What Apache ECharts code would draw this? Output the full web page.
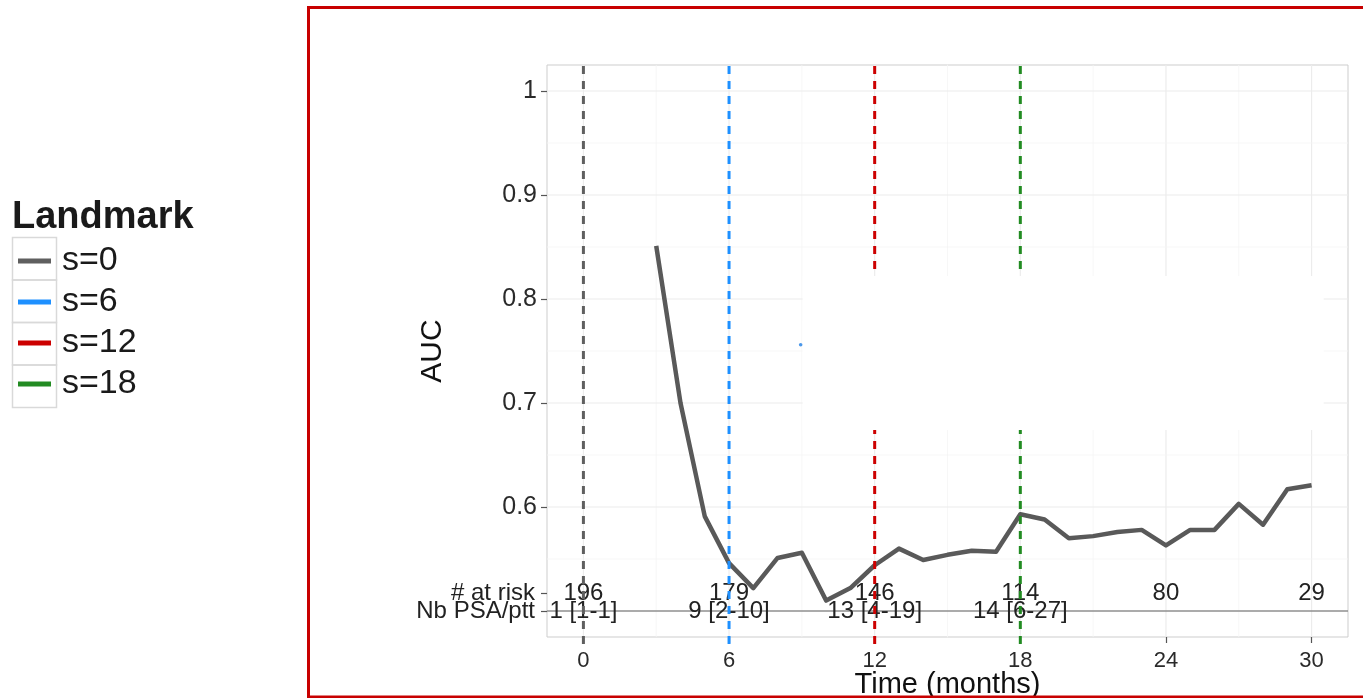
<!DOCTYPE html>
<html><head><meta charset="utf-8">
<script src="https://cdn.jsdelivr.net/npm/echarts@6/dist/echarts.min.js"></script>
<style>html,body{margin:0;padding:0;background:#fff}#c{width:1363px;height:698px}</style>
</head><body><div id="c"></div>
<script>
// ---- data ----
const months = [3,4,5,6,7,8,9,10,11,12,13,14,15,16,17,18,19,20,21,22,23,24,25,26,27,28,29,30];
const auc    = [0.851,0.700,0.591,0.546,0.522,0.551,0.556,0.510,0.522,0.544,0.560,0.549,0.554,0.558,0.557,0.593,0.588,0.570,0.572,0.576,0.578,0.563,0.578,0.578,0.603,0.583,0.617,0.621];
const landmarks = [0,6,12,18];
const landmarkNames = ['s=0','s=6','s=12','s=18'];
const landmarkColors = ['#5f5f5f','#1E90FF','#CC0000','#228B22'];
const riskTimes = [0,6,12,18,24,30];
const atRisk = [196,179,146,114,80,29];
const psaTimes = [0,6,12,18];
const psaLabels = ['1 [1-1]','9 [2-10]','13 [4-19]','14 [6-27]'];
const rowLabels = ['# at risk','Nb PSA/ptt'];
const rowY = [0.517, 0.5];
const xTicks = [0,6,12,18,24,30];
const xMinor = [3,9,15,21,27];
const yTicks = [0.6,0.7,0.8,0.9,1];
const yTickLabels = ['0.6','0.7','0.8','0.9','1'];
const yMinor = [0.55,0.65,0.75,0.85,0.95];
const xMin = -1.5, xMax = 31.5, yMin = 0.475, yMax = 1.025;
const refLineY = [0.5];
const patch = {x0: 9.03, x1: 30.5, y0: 0.674, y1: 0.822};
const strayDot = [8.95, 0.756];

const FONT = 'Liberation Sans, Arial, sans-serif';
const chart = echarts.init(document.getElementById('c'));

const gridData = [];
xTicks.forEach(v => gridData.push([v, yMin, 0, 1]));
xMinor.forEach(v => gridData.push([v, yMin, 0, 0]));
yTicks.forEach(v => gridData.push([xMin, v, 1, 1]));
yMinor.forEach(v => gridData.push([xMin, v, 1, 0]));

// table cells: [x, y, text, isRowLabel]
const tableData = [];
riskTimes.forEach((t, i) => tableData.push([t, rowY[0], String(atRisk[i]), 0]));
psaTimes.forEach((t, i) => tableData.push([t, rowY[1], psaLabels[i], 0]));
rowLabels.forEach((lab, i) => tableData.push([xMin, rowY[i], lab, 1]));

const yTickValues = [rowY[1], rowY[0]].concat(yTicks);
function yFmt(v) {
  for (let i = 0; i < yTicks.length; i++) if (Math.abs(v - yTicks[i]) < 1e-6) return yTickLabels[i];
  return '';
}

const series = [
  {
    name: 'gridlines', type: 'custom', silent: true, z: 1,
    encode: {x: 0, y: 1},
    data: gridData,
    renderItem: function (params, api) {
      const kind = api.value(2), major = api.value(3);
      let a, b;
      if (kind === 0) { a = api.coord([api.value(0), yMax]); b = api.coord([api.value(0), yMin]); }
      else { a = api.coord([xMin, api.value(1)]); b = api.coord([xMax, api.value(1)]); }
      return {type: 'line', shape: {x1: a[0], y1: a[1], x2: b[0], y2: b[1]},
        style: {stroke: major ? '#ececec' : '#f5f5f5', lineWidth: major ? 1.2 : 0.8}};
    }
  },
  {
    name: 'refline', type: 'custom', silent: true, z: 2,
    encode: {x: 0, y: 1},
    data: refLineY.map(v => [xMin, v]),
    renderItem: function (params, api) {
      const a = api.coord([xMin, api.value(1)]), b = api.coord([xMax, api.value(1)]);
      return {type: 'line', shape: {x1: a[0], y1: a[1], x2: b[0], y2: b[1]},
        style: {stroke: '#8f8f8f', lineWidth: 1.6}};
    }
  },
  {
    name: 'AUC', type: 'line', z: 3,
    data: months.map((m, i) => [m, auc[i]]),
    showSymbol: false, symbol: 'none',
    lineStyle: {color: '#595959', width: 4.5, join: 'round'},
    itemStyle: {color: '#595959'}
  },
  {
    name: 'table', type: 'custom', silent: true, z: 4, clip: false,
    encode: {x: 0, y: 1},
    data: tableData.map(d => [d[0], d[1], d[3]]),
    renderItem: function (params, api) {
      const p = api.coord([api.value(0), api.value(1)]);
      const isLab = api.value(2) === 1;
      return {type: 'text', x: isLab ? p[0] - 12 : p[0], y: p[1],
        style: {text: tableData[params.dataIndex][2], fontSize: 24, fontFamily: FONT,
          fill: '#222', align: isLab ? 'right' : 'center', verticalAlign: 'middle'}};
    }
  }
];
landmarks.forEach((s, i) => {
  series.push({
    name: landmarkNames[i], type: 'custom', z: 6, clip: false, silent: true,
    encode: {x: 0, y: 1},
    itemStyle: {color: landmarkColors[i]},
    data: [[s, yMax]],
    renderItem: function (params, api) {
      const a = api.coord([api.value(0), yMax]), b = api.coord([api.value(0), yMin]);
      return {type: 'line', shape: {x1: a[0], y1: a[1] + 1, x2: b[0], y2: b[1] + 9},
        style: {stroke: landmarkColors[i], lineWidth: 3, lineDash: [8, 7]}};
    }
  });
});

const option = {
  backgroundColor: '#ffffff',
  animation: false,
  textStyle: {fontFamily: FONT},
  title: {text: 'Landmark', left: 12, top: 199, padding: 0,
    textStyle: {fontSize: 38, fontWeight: 'bold', color: '#1a1a1a', fontFamily: FONT}},
  legend: {
    data: landmarkNames, orient: 'vertical', left: 18, top: 242, padding: 0,
    itemWidth: 33, itemHeight: 5, itemGap: 3, icon: 'rect', selectedMode: false,
    textStyle: {fontSize: 34, lineHeight: 38, color: '#1a1a1a', fontFamily: FONT, padding: [0, 0, 0, 6]}
  },
  grid: {left: 547, right: 15, top: 65, bottom: 61, show: true, containLabel: false,
    outerBoundsMode: 'none',
    borderColor: '#cdcdcd', borderWidth: 1, backgroundColor: '#fff'},
  xAxis: {
    type: 'value', min: xMin, max: xMax,
    axisLine: {show: false, onZero: false}, splitLine: {show: false},
    axisTick: {show: true, customValues: xTicks, length: 6, lineStyle: {color: '#555', width: 1.2}},
    axisLabel: {customValues: xTicks, fontSize: 22, color: '#2a2a2a', margin: 13, fontFamily: FONT},
    name: 'Time (months)', nameLocation: 'middle', nameGap: 33, nameMoveOverlap: false,
    nameTextStyle: {fontSize: 29, color: '#111', fontFamily: FONT}
  },
  yAxis: {
    type: 'value', min: yMin, max: yMax,
    axisLine: {show: false, onZero: false}, splitLine: {show: false},
    axisTick: {show: true, customValues: yTickValues, length: 6, lineStyle: {color: '#555', width: 1.2}},
    axisLabel: {customValues: yTicks, formatter: yFmt, fontSize: 25, color: '#2a2a2a', margin: 10, fontFamily: FONT},
    name: 'AUC', nameLocation: 'middle', nameGap: 99, nameMoveOverlap: false,
    nameTextStyle: {fontSize: 30, color: '#111', fontFamily: FONT}
  },
  series: series
};
chart.setOption(option);

// layout-only decorations (frame, legend key boxes, white occluding patch)
const pA = chart.convertToPixel({gridIndex: 0}, [patch.x0, patch.y1]);
const pB = chart.convertToPixel({gridIndex: 0}, [patch.x1, patch.y0]);
const pD = chart.convertToPixel({gridIndex: 0}, strayDot);
const elems = [
  {type: 'rect', z: 200, shape: {x: 308.5, y: 7.5, width: 1200, height: 689.5},
    style: {fill: 'none', stroke: '#c80000', lineWidth: 3}},
  {type: 'rect', z: 100, shape: {x: pA[0], y: pA[1], width: pB[0] - pA[0], height: pB[1] - pA[1]},
    style: {fill: '#ffffff'}},
  {type: 'circle', z: 101, shape: {cx: pD[0], cy: pD[1], r: 1.8}, style: {fill: '#4b98ea'}}
];
for (let i = 0; i < 4; i++) {
  elems.push({type: 'rect', z: 0, shape: {x: 12.5, y: 237.5 + i * 42.5, width: 44, height: 42.5},
    style: {fill: 'none', stroke: '#d9d9d9', lineWidth: 1.5}});
}
chart.setOption({graphic: {elements: elems}});
</script>
</body></html>
